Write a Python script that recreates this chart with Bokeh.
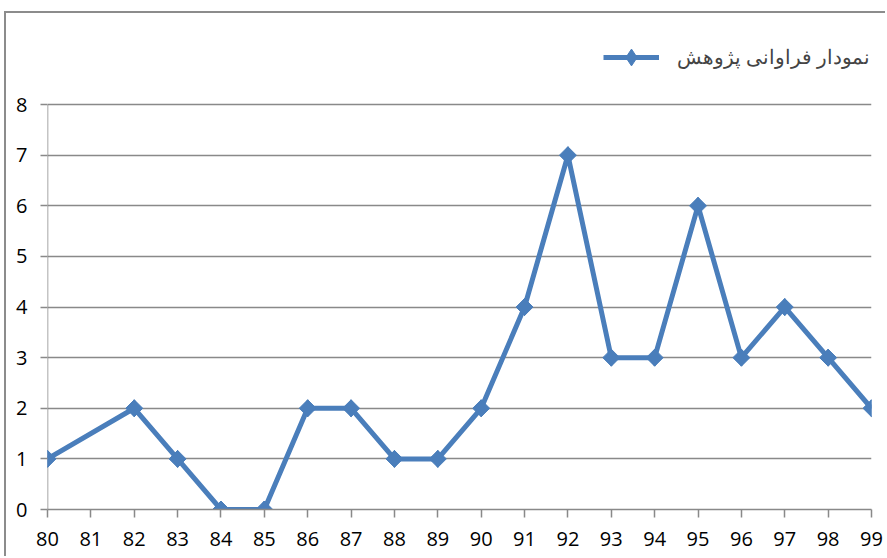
import numpy as np
from bokeh.plotting import figure
from bokeh.models import ColumnDataSource, Range1d, FixedTicker, Legend, LegendItem
from bokeh.embed import file_html
from bokeh.resources import INLINE

years = [80, 82, 83, 84, 85, 86, 87, 88, 89, 90, 91, 92, 93, 94, 95, 96, 97, 98, 99]
counts = [1, 2, 1, 0, 0, 2, 2, 1, 1, 2, 4, 7, 3, 3, 6, 3, 4, 3, 2]
x_ticks = list(range(80, 100))
y_ticks = list(range(0, 9))
series_name = "نمودار فراوانی پژوهش"

BLUE = "#4A7EBB"
GRAY = "#898989"

src = ColumnDataSource(dict(x=years, y=counts))

p = figure(width=881, height=545, output_backend="svg", toolbar_location=None,
           x_range=Range1d(80, 99), y_range=Range1d(0, 9.8),
           min_border_left=41, min_border_right=16, min_border_top=0, min_border_bottom=49)
p.margin = (11, 0, 0, 4)
p.styles = {"border-top": "2px solid #8c8c8c", "border-left": "2px solid #8c8c8c"}

p.outline_line_color = None
p.xgrid.grid_line_color = None
p.ygrid.grid_line_color = GRAY
p.ygrid.grid_line_width = 1.5
p.ygrid.ticker = FixedTicker(ticks=y_ticks)

p.xaxis.ticker = FixedTicker(ticks=x_ticks)
p.yaxis.ticker = FixedTicker(ticks=y_ticks)
for ax in (p.xaxis, p.yaxis):
    ax.axis_line_color = GRAY
    ax.axis_line_width = 1.5
    ax.major_tick_line_color = GRAY
    ax.major_tick_line_width = 1.5
    ax.major_tick_in = 0
    ax.minor_tick_line_color = None
    ax.major_label_text_font = "Open Sans"
    ax.major_label_text_font_size = "20px"
    ax.major_label_text_color = "#000000"
p.yaxis.axis_line_color = None
p.xaxis.major_tick_out = 8
p.yaxis.major_tick_out = 7
p.xaxis.major_label_standoff = 14
p.yaxis.major_label_standoff = 13

# vertical axis line only up to the top tick
p.line(x=[x_ticks[0], x_ticks[0]], y=[y_ticks[0], y_ticks[-1]], line_color=GRAY, line_width=1.5)

ln = p.line("x", "y", source=src, line_color=BLUE, line_width=5)
# diamond marker (used for the legend swatch; hidden under the rotated squares)
leg_marker = p.scatter("x", "y", source=src, marker="diamond", size=17,
                       fill_color=BLUE, line_color=BLUE)
sc = p.scatter("x", "y", source=src, marker="square", angle=np.pi / 4, size=12,
               fill_color=BLUE, line_color=BLUE)

legend = Legend(items=[LegendItem(label=series_name, renderers=[ln, leg_marker])],
                location=(556, 431), glyph_width=56, glyph_height=42,
                margin=0, padding=0, spacing=0,
                label_text_font="Liberation Serif", label_text_font_size="20px",
                border_line_color=None, background_fill_alpha=0, label_standoff=18)
p.add_layout(legend)

open("out.html", "w").write(file_html(p, INLINE))
